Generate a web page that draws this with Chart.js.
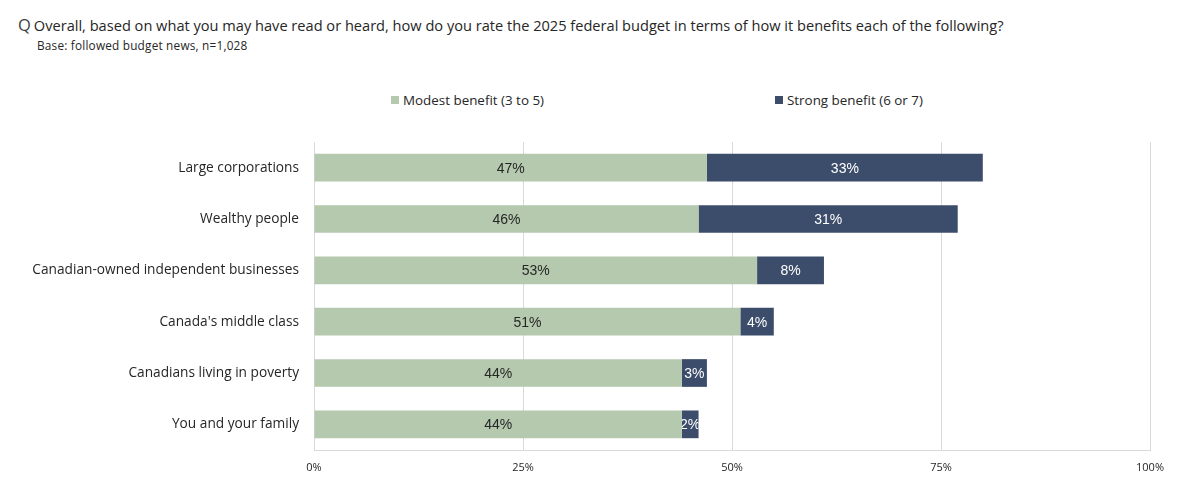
<!DOCTYPE html>
<html>
<head>
<meta charset="utf-8">
<script src="https://cdn.jsdelivr.net/npm/chart.js@4.4.1/dist/chart.umd.min.js"></script>
<style>
  body { margin: 0; background: #fff; width: 1190px; height: 495px; overflow: hidden; font-family: "Open Sans", sans-serif; color: #262626; }
  #wrap { position: relative; width: 1190px; height: 495px; }
  #title { position: absolute; left: 18px; top: 15px; font-size: 14.6px; line-height: 20px; white-space: nowrap; }
  #title .q { color: #404040; font-size: 16.5px; margin-right: 3px; }
  #subtitle { position: absolute; left: 37px; top: 37px; font-size: 11.8px; line-height: 16px; letter-spacing: 0.2px; white-space: nowrap; }
  .legend { position: absolute; top: 91px; font-size: 13.4px; white-space: nowrap; }
  .legend span.box { display: inline-block; width: 8px; height: 8px; margin-right: 4px; vertical-align: 1px; }
  canvas { position: absolute; left: 0; top: 0; }
</style>
</head>
<body>
<div id="wrap">
  <div id="title"><span class="q">Q</span>Overall, based on what you may have read or heard, how do you rate the 2025 federal budget in terms of how it benefits each of the following?</div>
  <div id="subtitle">Base: followed budget news, n=1,028</div>
  <div class="legend" style="left:391px"><span class="box" id="box0"></span><span id="leg0"></span></div>
  <div class="legend" style="left:775px"><span class="box" id="box1"></span><span id="leg1"></span></div>
  <canvas id="myChart" width="1190" height="495"></canvas>
</div>
<script>
const categories = [
  "Large corporations",
  "Wealthy people",
  "Canadian-owned independent businesses",
  "Canada's middle class",
  "Canadians living in poverty",
  "You and your family",
];
const seriesNames = ["Modest benefit (3 to 5)", "Strong benefit (6 or 7)"];
const modestValues = [47, 46, 53, 51, 44, 44];
const strongValues = [33, 31, 8, 4, 3, 2];
const xTicks = [0, 25, 50, 75, 100];

const seriesColors = ["#b4c9ae", "#3c4d6b"];
const labelColors = ["#262626", "#ffffff"];

document.getElementById("leg0").textContent = seriesNames[0];
document.getElementById("leg1").textContent = seriesNames[1];
document.getElementById("box0").style.background = seriesColors[0];
document.getElementById("box1").style.background = seriesColors[1];

// centred value labels, clipped to the bar like the original
const barLabels = {
  id: "barLabels",
  afterDatasetsDraw(chart) {
    const ctx = chart.ctx;
    chart.data.datasets.forEach((ds, i) => {
      const meta = chart.getDatasetMeta(i);
      meta.data.forEach((bar, j) => {
        const left = Math.min(bar.base, bar.x);
        const w = Math.abs(bar.x - bar.base);
        const h = bar.height;
        ctx.save();
        ctx.beginPath();
        ctx.rect(left, bar.y - h / 2, w, h);
        ctx.clip();
        ctx.fillStyle = labelColors[i];
        ctx.font = "14px 'Liberation Sans', Arial, sans-serif";
        ctx.textAlign = "center";
        ctx.textBaseline = "middle";
        ctx.fillText(ds.data[j] + "%", left + w / 2, bar.y + 1);
        ctx.restore();
      });
    });
  },
};

const myChart = document.getElementById("myChart");
new Chart(myChart, {
  type: "bar",
  data: {
    labels: categories,
    datasets: [
      { label: seriesNames[0], data: modestValues, backgroundColor: seriesColors[0] },
      { label: seriesNames[1], data: strongValues, backgroundColor: seriesColors[1] },
    ],
  },
  options: {
    indexAxis: "y",
    responsive: false,
    animation: false,
    layout: { padding: { left: 0, right: 40, top: 142, bottom: 15 } },
    datasets: { bar: { barPercentage: 0.54, categoryPercentage: 1 } },
    plugins: { legend: { display: false }, tooltip: { enabled: false } },
    scales: {
      x: {
        stacked: true,
        min: 0,
        max: 100,
        afterBuildTicks(scale) {
          scale.ticks = xTicks.map((v) => ({ value: v }));
        },
        afterFit(scale) { scale.height = 30; },
        ticks: {
          padding: 11,
          color: "#262626",
          font: { family: "'Open Sans', sans-serif", size: 11 },
          callback: (v) => v + "%",
        },
        grid: { color: "#d9d9d9", drawTicks: false },
        border: { display: true, color: "#d9d9d9" },
      },
      y: {
        stacked: true,
        afterFit(scale) { scale.width = 314; },
        ticks: {
          padding: 7,
          color: "#262626",
          font: { family: "'Open Sans', sans-serif", size: 13.7 },
        },
        grid: { display: false },
        border: { display: false },
      },
    },
  },
  plugins: [barLabels],
});
</script>
</body>
</html>
